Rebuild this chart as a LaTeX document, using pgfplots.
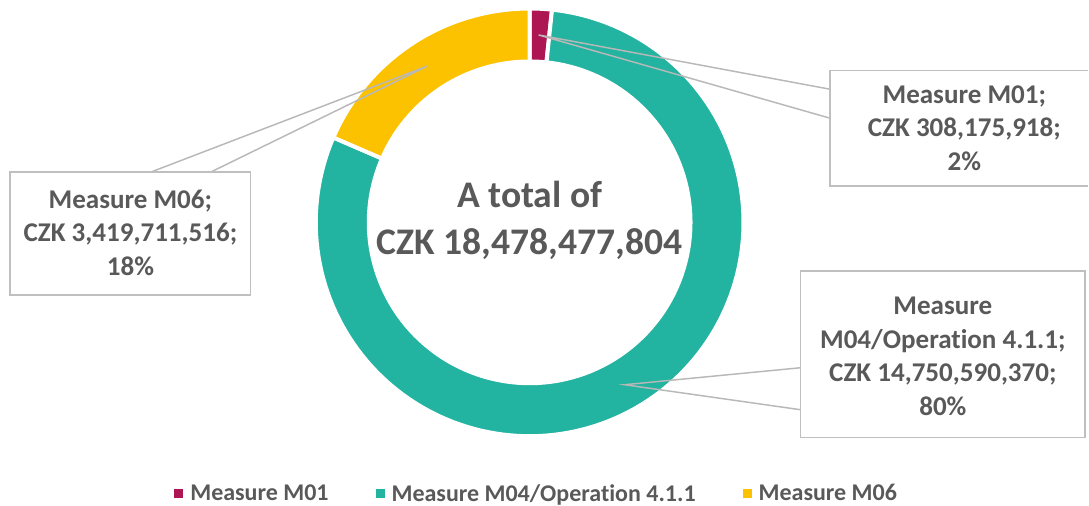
\documentclass[border=0pt]{standalone}
\usepackage{fontspec}
\setmainfont{Carlito}[Ligatures={NoCommon,NoDiscretionary,NoRare}]
\usepackage{pgfplots}
\pgfplotsset{compat=1.18}
\definecolor{cA}{HTML}{AD1652}
\definecolor{cB}{HTML}{22B3A1}
\definecolor{cC}{HTML}{FCC200}
\definecolor{txt}{HTML}{595959}
\definecolor{bx}{HTML}{BFBFBF}
\definecolor{ld}{HTML}{B8B8B8}
\tikzset{
  txtl/.style={anchor=base,text=txt,font=\fontsize{20.3}{24}\selectfont\bfseries},
  txtc/.style={anchor=base,text=txt,font=\fontsize{28.2}{34}\selectfont\bfseries},
}
\begin{document}
\begin{tikzpicture}
% values in billions of CZK
\def\vA{0.308175918}
\def\vB{14.750590370}
\def\vC{3.419711516}
\pgfmathsetmacro\tot{\vA+\vB+\vC}
\pgfmathsetmacro\aA{90-360*\vA/\tot}
\pgfmathsetmacro\aB{\aA-360*\vB/\tot}
\pgfmathsetmacro\aC{\aB-360*\vC/\tot}
\begin{axis}[x=0.75pt,y=0.75pt,xmin=0,xmax=1089,ymin=0,ymax=506,
  hide axis,clip=false,
  legend columns=3,
  legend image code/.code={\fill[#1] (0pt,-3.4pt) rectangle (6.75pt,3.4pt);},
  legend style={at={(axis description cs:0.4922,0.0237)},anchor=center,
    draw=none,fill=none,inner sep=0pt,
    font=\fontsize{18}{21}\selectfont\bfseries,text=txt,
    nodes={inner xsep=0pt},
    /tikz/every odd column/.append style={column sep=5.25pt},
    /tikz/every even column/.append style={column sep=35.25pt}},
]
\path (axis cs:0,0) rectangle (axis cs:1089,506);
% donut slices
\addplot[forget plot,fill=cA,draw=white,line width=3pt,domain=\aA:90,samples=10]
  ({530+214*cos(x)},{283.5+214*sin(x)}) -- (axis cs:530,283.5) -- cycle;
\addplot[forget plot,fill=cB,draw=white,line width=3pt,domain=\aB:\aA,samples=150]
  ({530+214*cos(x)},{283.5+214*sin(x)}) -- (axis cs:530,283.5) -- cycle;
\addplot[forget plot,fill=cC,draw=white,line width=3pt,domain=\aC:\aB,samples=40]
  ({530+214*cos(x)},{283.5+214*sin(x)}) -- (axis cs:530,283.5) -- cycle;
\addplot[forget plot,fill=white,draw=none,domain=0:360,samples=150]
  ({530+163*cos(x)},{283.5+163*sin(x)}) -- cycle;
% legend
\addlegendimage{fill=cA,draw=none}
\addlegendimage{fill=cB,draw=none}
\addlegendimage{fill=cC,draw=none}
\legend{Measure M01,Measure M04/Operation 4.1.1,Measure M06}
% leaders
\draw[ld,line width=1.1pt] (axis cs:830.7,416.7) -- (axis cs:539,471) -- (axis cs:830.7,387.7);
\draw[ld,line width=1.1pt] (axis cs:801,138) -- (axis cs:625,121) -- (axis cs:801,96);
\draw[ld,line width=1.1pt] (axis cs:150.7,333.7) -- (axis cs:428,440) -- (axis cs:210.7,333.7);
% boxes
\fill[white] (axis cs:830.7,320) rectangle (axis cs:1089,435.3);
\draw[bx,line width=1.1pt] (axis cs:1089,435.3) -- (axis cs:830.7,435.3) -- (axis cs:830.7,320) -- (axis cs:1089,320);
\filldraw[fill=white,draw=bx,line width=1.1pt] (axis cs:801,68.3) rectangle (axis cs:1085.7,235);
\filldraw[fill=white,draw=bx,line width=1.1pt] (axis cs:10,211) rectangle (axis cs:250.7,333.7);
% label texts
\node[txtl] at (axis cs:965,402.8) {Measure M01;};
\node[txtl] at (axis cs:965,369.3) {CZK 308,175,918;};
\node[txtl] at (axis cs:965,335.8) {2\%};
\node[txtl] at (axis cs:943.5,191) {Measure};
\node[txtl] at (axis cs:943.5,157.5) {M04/Operation 4.1.1;};
\node[txtl] at (axis cs:943.5,124) {CZK 14,750,590,370;};
\node[txtl] at (axis cs:943.5,90.5) {80\%};
\node[txtl] at (axis cs:130.5,297.5) {Measure M06;};
\node[txtl] at (axis cs:130.5,264) {CZK 3,419,711,516;};
\node[txtl] at (axis cs:130.5,230.5) {18\%};
% centre text
\node[txtc] at (axis cs:530,298) {A total of};
\node[txtc] at (axis cs:530,251) {CZK 18,478,477,804};
\end{axis}
\end{tikzpicture}
\end{document}
